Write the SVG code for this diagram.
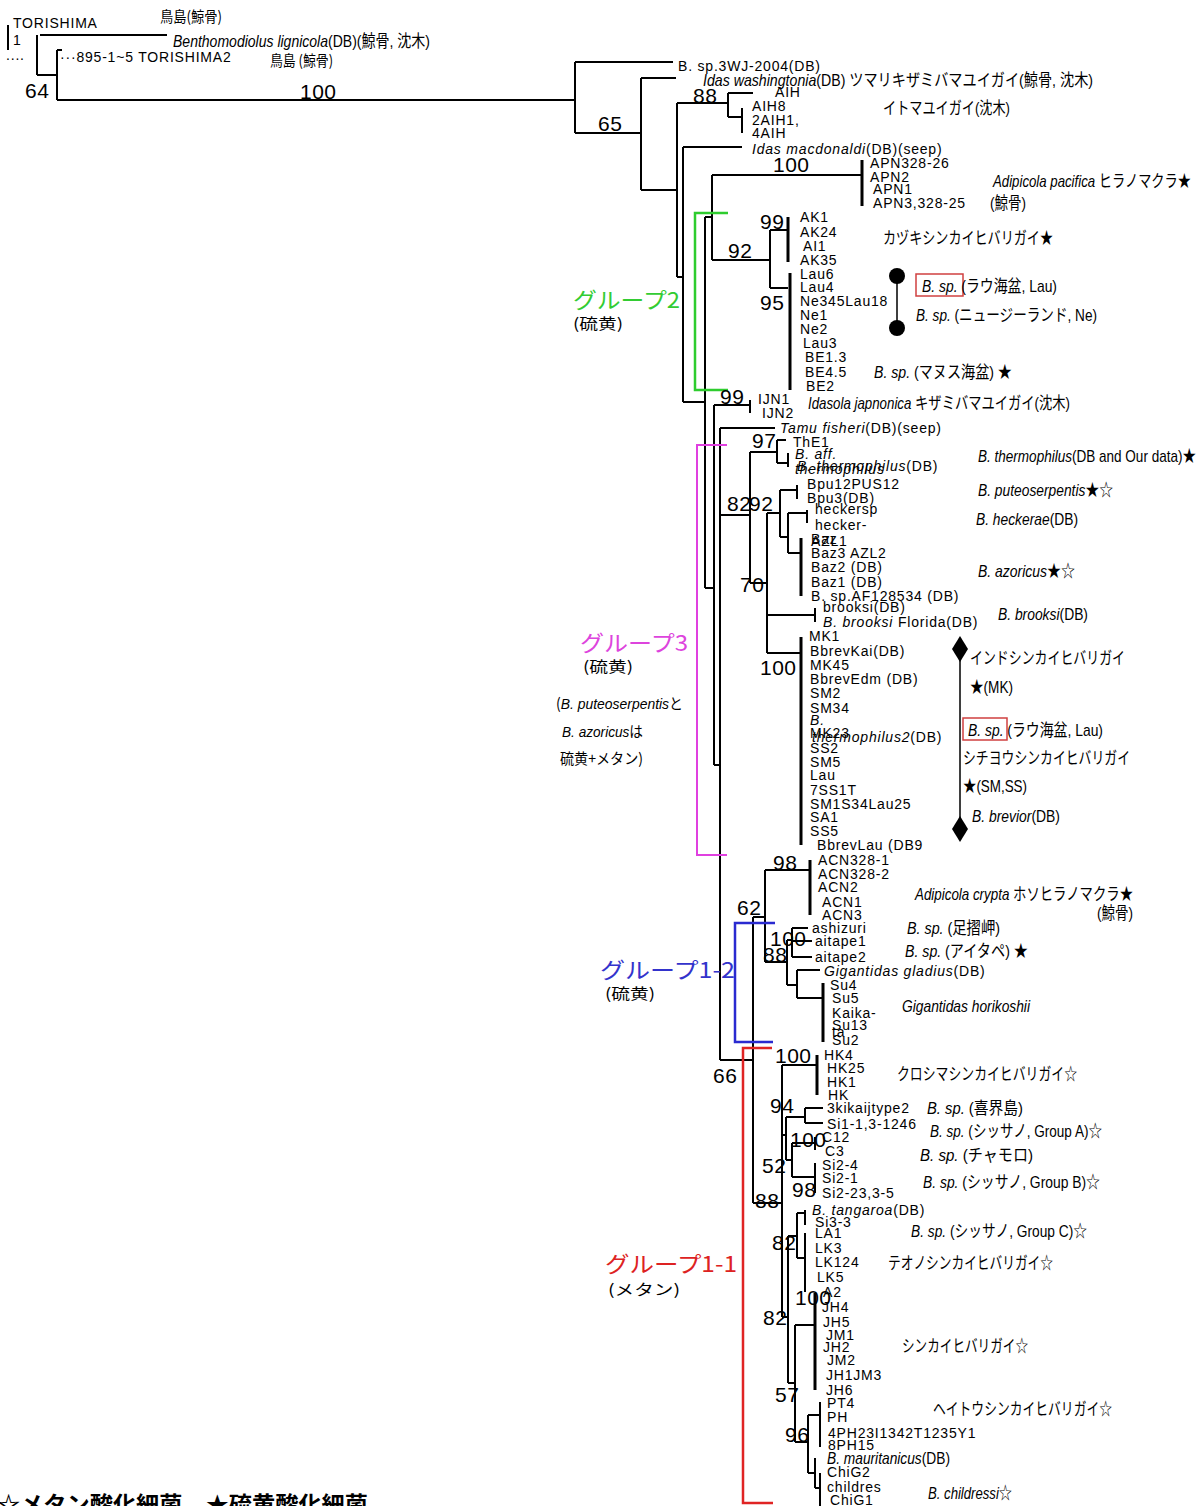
<svg xmlns="http://www.w3.org/2000/svg" width="1204" height="1506" viewBox="0 0 1204 1506">
<style>
.e{fill:none;stroke:#000;stroke-width:2}
.th{fill:none;stroke:#000;stroke-width:3}
.lf{font-family:"Liberation Sans",Arial,sans-serif;font-size:14px;letter-spacing:0.8px;fill:#000}
.bs{font-family:"Liberation Sans",Arial,sans-serif;font-size:21px;letter-spacing:0.5px;fill:#000}
.jp{font-family:"Liberation Sans","Noto Sans CJK JP",sans-serif;font-size:17px;fill:#000}
.gl{font-family:"Noto Sans CJK JP",sans-serif;font-size:22px}
.sm{font-family:"Noto Sans CJK JP",sans-serif;font-size:15px;fill:#000}
.i{font-style:italic}
</style>
<rect width="1204" height="1506" fill="#fff"/>
<g id="connectors">
<path class="e" d="M40,35H167M37,35V75M37,75H57M57,50V100M57,50H62M57,100H575"/>
<path class="e" d="M575,62H673M575,62V133M575,133H641M641,78V190M641,78H676M641,190H677M677,103V277M677,103H728M728,93V117M728,93H753M728,117H742M742,108V133M677,277H683M683,147V402M683,147H742M683,402H705M705,217V588M705,217H712M712,175V260M712,175H862M712,260H770M770,230V288M770,230H788M770,288H788"/>
<path class="th" d="M862,160V206M788,217V262M790,273V390"/>
<path class="e" d="M705,588H714M714,405V765M714,405H750M750,400V413M714,765H720M720,428V1060M720,428H775M720,515H750M750,452V583M750,452H777M777,440V463M777,440H786M777,463H788M788,453V467M750,583H767M767,513V653M767,513H780M780,490V537M780,490H797M797,485V499M780,537H788M788,513V553M788,513H807M807,510V523M788,553H801M767,615H815M815,608V622M767,653H801"/>
<path class="th" d="M801,538V596M801,637V845"/>
<path class="e" d="M720,1060H753M753,917V1203M753,917H765M765,870V962M765,870H810M765,962H787M787,940V985M787,940H792M792,928V957M792,928H808M792,941H812M792,957H812M787,985H797M797,970V998M797,970H820M797,998H823"/>
<path class="th" d="M810,860V915M823,983V1042"/>
<path class="e" d="M753,1203H782M782,1065V1317M782,1065H817M782,1135H786M786,1117V1160M786,1117H805M805,1108V1123M805,1108H823M805,1123H823M786,1160H792M792,1143V1177M792,1143H815M815,1137V1150M792,1177H815M815,1163V1193"/>
<path class="th" d="M817,1055V1095"/>
<path class="e" d="M782,1317H788M788,1236V1383M788,1236H797M797,1213V1258M797,1213H805M805,1210V1225M797,1258H805M805,1233V1292M788,1383H795M795,1325V1442M795,1325H815M795,1442H808M808,1415V1473M808,1415H820M820,1402V1447M808,1473H815M815,1458V1488M815,1488H820M820,1473V1506"/>
<path class="th" d="M815,1293V1390"/>
<path fill="none" stroke="#2ecc2e" stroke-width="2.5" d="M728,213H695V390H728"/>
<path fill="none" stroke="#e040e0" stroke-width="2" d="M727,445H697V855H727"/>
<path fill="none" stroke="#2a2ad0" stroke-width="2.5" d="M775,923H735V1042H773"/>
<path fill="none" stroke="#e02424" stroke-width="2.5" d="M772,1048H743V1503H773"/>
<path fill="none" stroke="#000" stroke-width="1.5" d="M897,276V328M960,649V829"/>
<circle cx="897" cy="276" r="8"/>
<circle cx="897" cy="328" r="8"/>
<polygon points="960,636 968,649 960,662 952,649"/>
<polygon points="960,816 968,829 960,842 952,829"/>
<rect x="916" y="274" width="47" height="22" fill="none" stroke="#d04040" stroke-width="1.5"/>
<rect x="963" y="718" width="44" height="22" fill="none" stroke="#d04040" stroke-width="1.5"/>
</g>
<g id="topleft">
<text class="lf" x="13" y="28">TORISHIMA</text>
<text class="lf" x="13" y="45">1</text>
<path d="M8,25V50" stroke="#000" stroke-width="2"/>
<text class="lf" x="6" y="60">....</text>
<text class="sm" x="160" y="22" textLength="62" lengthAdjust="spacingAndGlyphs">鳥島(鯨骨)</text>
<text class="jp" x="173" y="47" textLength="257" lengthAdjust="spacingAndGlyphs"><tspan class="i">Benthomodiolus lignicola</tspan>(DB)(鯨骨, 沈木)</text>
<text class="lf" x="60" y="62">···895-1~5 TORISHIMA2</text>
<text class="sm" x="270" y="66" textLength="63" lengthAdjust="spacingAndGlyphs">鳥島 (鯨骨)</text>
<text class="bs" x="25" y="98">64</text>
<text class="bs" x="300" y="99">100</text>
</g>
<g id="bootstrap">
<text class="bs" x="598" y="131">65</text>
<text class="bs" x="693" y="103">88</text>
<text class="bs" x="773" y="172">100</text>
<text class="bs" x="760" y="229">99</text>
<text class="bs" x="728" y="258">92</text>
<text class="bs" x="760" y="310">95</text>
<text class="bs" x="720" y="404">99</text>
<text class="bs" x="752" y="448">97</text>
<text class="bs" x="727" y="511">82</text>
<text class="bs" x="749" y="511">92</text>
<text class="bs" x="740" y="592">70</text>
<text class="bs" x="760" y="675">100</text>
<text class="bs" x="773" y="870">98</text>
<text class="bs" x="737" y="915">62</text>
<text class="bs" x="770" y="946">100</text>
<text class="bs" x="763" y="962">88</text>
<text class="bs" x="775" y="1063">100</text>
<text class="bs" x="713" y="1083">66</text>
<text class="bs" x="770" y="1113">94</text>
<text class="bs" x="790" y="1147">100</text>
<text class="bs" x="762" y="1173">52</text>
<text class="bs" x="792" y="1197">98</text>
<text class="bs" x="755" y="1208">88</text>
<text class="bs" x="772" y="1250">82</text>
<text class="bs" x="795" y="1305">100</text>
<text class="bs" x="763" y="1325">82</text>
<text class="bs" x="775" y="1402">57</text>
<text class="bs" x="785" y="1442">96</text>
</g>
<g id="group-labels">
<text class="gl" x="573" y="308" fill="#33cc33" textLength="107" lengthAdjust="spacingAndGlyphs">グループ2</text>
<text class="sm" x="573" y="329" textLength="50" lengthAdjust="spacingAndGlyphs">(硫黄)</text>
<text class="gl" x="580" y="651" fill="#dd44dd" textLength="108" lengthAdjust="spacingAndGlyphs">グループ3</text>
<text class="sm" x="583" y="672" textLength="50" lengthAdjust="spacingAndGlyphs">(硫黄)</text>
<text class="sm" x="556" y="709" textLength="127" lengthAdjust="spacingAndGlyphs">(<tspan class="i" font-family="Liberation Sans">B. puteoserpentis</tspan>と</text>
<text class="sm" x="562" y="737" textLength="81" lengthAdjust="spacingAndGlyphs"><tspan class="i" font-family="Liberation Sans">B. azoricus</tspan>は</text>
<text class="sm" x="560" y="764" textLength="83" lengthAdjust="spacingAndGlyphs">硫黄+メタン)</text>
<text class="gl" x="600" y="978" fill="#3333cc" textLength="135" lengthAdjust="spacingAndGlyphs">グループ1-2</text>
<text class="sm" x="605" y="999" textLength="50" lengthAdjust="spacingAndGlyphs">(硫黄)</text>
<text class="gl" x="605" y="1272" fill="#dd2222" textLength="132" lengthAdjust="spacingAndGlyphs">グループ1-1</text>
<text class="sm" x="608" y="1295" textLength="72" lengthAdjust="spacingAndGlyphs">(メタン)</text>
<text x="-3" y="1512" font-family="Noto Sans CJK JP,sans-serif" font-size="22" font-weight="bold" textLength="371" lengthAdjust="spacingAndGlyphs">☆メタン酸化細菌　★硫黄酸化細菌</text>
</g>
<g id="leaves-top">
<text class="lf" x="678" y="71">B. sp.3WJ-2004(DB)</text>
<text class="jp" x="703" y="86" textLength="390" lengthAdjust="spacingAndGlyphs"><tspan class="i">Idas washingtonia</tspan>(DB) ツマリキザミバマユイガイ(鯨骨, 沈木)</text>
<text class="lf" x="775" y="97">AIH</text>
<text class="lf" x="752" y="111">AIH8</text>
<text class="lf" x="752" y="125">2AIH1,</text>
<text class="lf" x="752" y="138">4AIH</text>
<text class="jp" x="883" y="114" textLength="127" lengthAdjust="spacingAndGlyphs">イトマユイガイ(沈木)</text>
<text class="lf" x="752" y="154"><tspan class="i">Idas macdonaldi</tspan>(DB)(seep)</text>
<text class="lf" x="870" y="168">APN328-26</text>
<text class="lf" x="870" y="182">APN2</text>
<text class="lf" x="873" y="194">APN1</text>
<text class="lf" x="873" y="208">APN3,328-25</text>
<text class="jp" x="993" y="187" textLength="198" lengthAdjust="spacingAndGlyphs"><tspan class="i">Adipicola pacifica</tspan> ヒラノマクラ★</text>
<text class="jp" x="990" y="209" textLength="36" lengthAdjust="spacingAndGlyphs">(鯨骨)</text>
</g>
<g id="leaves-group2">
<text class="lf" x="800" y="222">AK1</text>
<text class="lf" x="800" y="237">AK24</text>
<text class="lf" x="803" y="251">AI1</text>
<text class="lf" x="800" y="265">AK35</text>
<text class="lf" x="800" y="279">Lau6</text>
<text class="lf" x="800" y="292">Lau4</text>
<text class="lf" x="800" y="306">Ne345Lau18</text>
<text class="lf" x="800" y="320">Ne1</text>
<text class="lf" x="800" y="334">Ne2</text>
<text class="lf" x="803" y="348">Lau3</text>
<text class="lf" x="805" y="362">BE1.3</text>
<text class="lf" x="805" y="377">BE4.5</text>
<text class="lf" x="806" y="391">BE2</text>
<text class="jp" x="883" y="244" textLength="170" lengthAdjust="spacingAndGlyphs">カヅキシンカイヒバリガイ★</text>
<text class="jp" x="922" y="292" textLength="135" lengthAdjust="spacingAndGlyphs"><tspan class="i">B. sp.</tspan> (ラウ海盆, Lau)</text>
<text class="jp" x="916" y="321" textLength="181" lengthAdjust="spacingAndGlyphs"><tspan class="i">B. sp.</tspan> (ニュージーランド, Ne)</text>
<text class="jp" x="874" y="378" textLength="138" lengthAdjust="spacingAndGlyphs"><tspan class="i">B. sp.</tspan> (マヌス海盆) ★</text>
<text class="lf" x="758" y="404">IJN1</text>
<text class="lf" x="762" y="418">IJN2</text>
<text class="jp" x="808" y="409" textLength="262" lengthAdjust="spacingAndGlyphs"><tspan class="i">Idasola japnonica</tspan> キザミバマユイガイ(沈木)</text>
<text class="lf" x="780" y="433"><tspan class="i">Tamu fisheri</tspan>(DB)(seep)</text>
</g>
<g id="leaves-group3">
<text class="lf" x="793" y="447">ThE1</text>
<text class="lf i" x="795" y="459">B. aff.</text>
<text class="lf i" x="795" y="474">thermophilus</text>
<text class="lf" x="797" y="471"><tspan class="i">B. thermophilus</tspan>(DB)</text>
<text class="lf" x="807" y="489">Bpu12PUS12</text>
<text class="lf" x="807" y="503">Bpu3(DB)</text>
<text class="lf" x="815" y="514">heckersp</text>
<text class="lf" x="815" y="530">hecker-</text>
<text class="lf" x="811" y="546">AZL1</text>
<text class="lf" x="811" y="544">Baz</text>
<text class="lf" x="811" y="558">Baz3 AZL2</text>
<text class="lf" x="811" y="572">Baz2 (DB)</text>
<text class="lf" x="811" y="587">Baz1 (DB)</text>
<text class="lf" x="811" y="601">B. sp.AF128534 (DB)</text>
<text class="lf" x="823" y="612">brooksi(DB)</text>
<text class="lf" x="823" y="627"><tspan class="i">B. brooksi</tspan> Florida(DB)</text>
<text class="jp" x="978" y="462" textLength="218" lengthAdjust="spacingAndGlyphs"><tspan class="i">B. thermophilus</tspan>(DB and Our data)★</text>
<text class="jp" x="978" y="496" textLength="135" lengthAdjust="spacingAndGlyphs"><tspan class="i">B. puteoserpentis</tspan>★☆</text>
<text class="jp" x="976" y="525" textLength="102" lengthAdjust="spacingAndGlyphs"><tspan class="i">B. heckerae</tspan>(DB)</text>
<text class="jp" x="978" y="577" textLength="97" lengthAdjust="spacingAndGlyphs"><tspan class="i">B. azoricus</tspan>★☆</text>
<text class="jp" x="998" y="620" textLength="90" lengthAdjust="spacingAndGlyphs"><tspan class="i">B. brooksi</tspan>(DB)</text>
<text class="lf" x="809" y="641">MK1</text>
<text class="lf" x="810" y="656">BbrevKai(DB)</text>
<text class="lf" x="810" y="670">MK45</text>
<text class="lf" x="810" y="684">BbrevEdm (DB)</text>
<text class="lf" x="810" y="698">SM2</text>
<text class="lf" x="810" y="713">SM34</text>
<text class="lf i" x="810" y="725">B.</text>
<text class="lf" x="810" y="738">MK23</text>
<text class="lf" x="812" y="742"><tspan class="i">thermophilus2</tspan>(DB)</text>
<text class="lf" x="810" y="753">SS2</text>
<text class="lf" x="810" y="767">SM5</text>
<text class="lf" x="810" y="780">Lau</text>
<text class="lf" x="810" y="795">7SS1T</text>
<text class="lf" x="810" y="809">SM1S34Lau25</text>
<text class="lf" x="810" y="822">SA1</text>
<text class="lf" x="810" y="836">SS5</text>
<text class="lf" x="817" y="850">BbrevLau (DB9</text>
<text class="jp" x="970" y="664" textLength="155" lengthAdjust="spacingAndGlyphs">インドシンカイヒバリガイ</text>
<text class="jp" x="970" y="693" textLength="43" lengthAdjust="spacingAndGlyphs">★(MK)</text>
<text class="jp" x="968" y="736" textLength="135" lengthAdjust="spacingAndGlyphs"><tspan class="i">B. sp.</tspan> (ラウ海盆, Lau)</text>
<text class="jp" x="963" y="764" textLength="167" lengthAdjust="spacingAndGlyphs">シチヨウシンカイヒバリガイ</text>
<text class="jp" x="963" y="792" textLength="64" lengthAdjust="spacingAndGlyphs">★(SM,SS)</text>
<text class="jp" x="972" y="822" textLength="88" lengthAdjust="spacingAndGlyphs"><tspan class="i">B. brevior</tspan>(DB)</text>
</g>
<g id="leaves-group12">
<text class="lf" x="818" y="865">ACN328-1</text>
<text class="lf" x="818" y="879">ACN328-2</text>
<text class="lf" x="818" y="892">ACN2</text>
<text class="lf" x="822" y="907">ACN1</text>
<text class="lf" x="822" y="920">ACN3</text>
<text class="lf" x="812" y="933">ashizuri</text>
<text class="lf" x="815" y="946">aitape1</text>
<text class="lf" x="815" y="962">aitape2</text>
<text class="lf" x="824" y="976"><tspan class="i">Gigantidas gladius</tspan>(DB)</text>
<text class="lf" x="830" y="990">Su4</text>
<text class="lf" x="832" y="1003">Su5</text>
<text class="lf" x="832" y="1018">Kaika-</text>
<text class="lf" x="832" y="1030">Su13</text>
<text class="lf" x="832" y="1037">ta</text>
<text class="lf" x="832" y="1045">Su2</text>
<text class="jp" x="915" y="900" textLength="218" lengthAdjust="spacingAndGlyphs"><tspan class="i">Adipicola crypta</tspan> ホソヒラノマクラ★</text>
<text class="jp" x="1097" y="919" textLength="36" lengthAdjust="spacingAndGlyphs">(鯨骨)</text>
<text class="jp" x="907" y="934" textLength="93" lengthAdjust="spacingAndGlyphs"><tspan class="i">B. sp.</tspan> (足摺岬)</text>
<text class="jp" x="905" y="957" textLength="123" lengthAdjust="spacingAndGlyphs"><tspan class="i">B. sp.</tspan> (アイタペ) ★</text>
<text class="jp i" x="902" y="1012" textLength="128" lengthAdjust="spacingAndGlyphs">Gigantidas horikoshii</text>
</g>
<g id="leaves-group11">
<text class="lf" x="824" y="1060">HK4</text>
<text class="lf" x="827" y="1073">HK25</text>
<text class="lf" x="827" y="1087">HK1</text>
<text class="lf" x="828" y="1100">HK</text>
<text class="lf" x="827" y="1113">3kikaijtype2</text>
<text class="lf" x="827" y="1129">Si1-1,3-1246</text>
<text class="lf" x="822" y="1142">C12</text>
<text class="lf" x="825" y="1156">C3</text>
<text class="lf" x="822" y="1170">Si2-4</text>
<text class="lf" x="822" y="1183">Si2-1</text>
<text class="lf" x="822" y="1198">Si2-23,3-5</text>
<text class="lf" x="812" y="1215"><tspan class="i">B. tangaroa</tspan>(DB)</text>
<text class="lf" x="815" y="1227">Si3-3</text>
<text class="lf" x="815" y="1238">LA1</text>
<text class="lf" x="815" y="1253">LK3</text>
<text class="lf" x="815" y="1267">LK124</text>
<text class="lf" x="817" y="1282">LK5</text>
<text class="lf" x="823" y="1297">A2</text>
<text class="lf" x="822" y="1312">JH4</text>
<text class="lf" x="823" y="1327">JH5</text>
<text class="lf" x="826" y="1340">JM1</text>
<text class="lf" x="823" y="1352">JH2</text>
<text class="lf" x="827" y="1365">JM2</text>
<text class="lf" x="826" y="1380">JH1JM3</text>
<text class="lf" x="826" y="1395">JH6</text>
<text class="lf" x="827" y="1408">PT4</text>
<text class="lf" x="827" y="1422">PH</text>
<text class="lf" x="828" y="1438">4PH23I1342T1235Y1</text>
<text class="lf" x="828" y="1450">8PH15</text>
<text class="jp i" x="827" y="1464" textLength="123" lengthAdjust="spacingAndGlyphs">B. mauritanicus<tspan font-style="normal">(DB)</tspan></text>
<text class="lf" x="827" y="1477">ChiG2</text>
<text class="lf" x="827" y="1492">childres</text>
<text class="lf" x="830" y="1505">ChiG1</text>
<text class="jp" x="897" y="1080" textLength="180" lengthAdjust="spacingAndGlyphs">クロシマシンカイヒバリガイ☆</text>
<text class="jp" x="927" y="1114" textLength="96" lengthAdjust="spacingAndGlyphs"><tspan class="i">B. sp.</tspan> (喜界島)</text>
<text class="jp" x="930" y="1137" textLength="172" lengthAdjust="spacingAndGlyphs"><tspan class="i">B. sp.</tspan> (シッサノ, Group A)☆</text>
<text class="jp" x="920" y="1161" textLength="113" lengthAdjust="spacingAndGlyphs"><tspan class="i">B. sp.</tspan> (チャモロ)</text>
<text class="jp" x="923" y="1188" textLength="177" lengthAdjust="spacingAndGlyphs"><tspan class="i">B. sp.</tspan> (シッサノ, Group B)☆</text>
<text class="jp" x="911" y="1237" textLength="176" lengthAdjust="spacingAndGlyphs"><tspan class="i">B. sp.</tspan> (シッサノ, Group C)☆</text>
<text class="jp" x="888" y="1269" textLength="165" lengthAdjust="spacingAndGlyphs">テオノシンカイヒバリガイ☆</text>
<text class="jp" x="902" y="1352" textLength="126" lengthAdjust="spacingAndGlyphs">シンカイヒバリガイ☆</text>
<text class="jp" x="933" y="1415" textLength="179" lengthAdjust="spacingAndGlyphs">ヘイトウシンカイヒバリガイ☆</text>
<text class="jp" x="928" y="1499" textLength="84" lengthAdjust="spacingAndGlyphs"><tspan class="i">B. childressi</tspan>☆</text>
</g>
</svg>
